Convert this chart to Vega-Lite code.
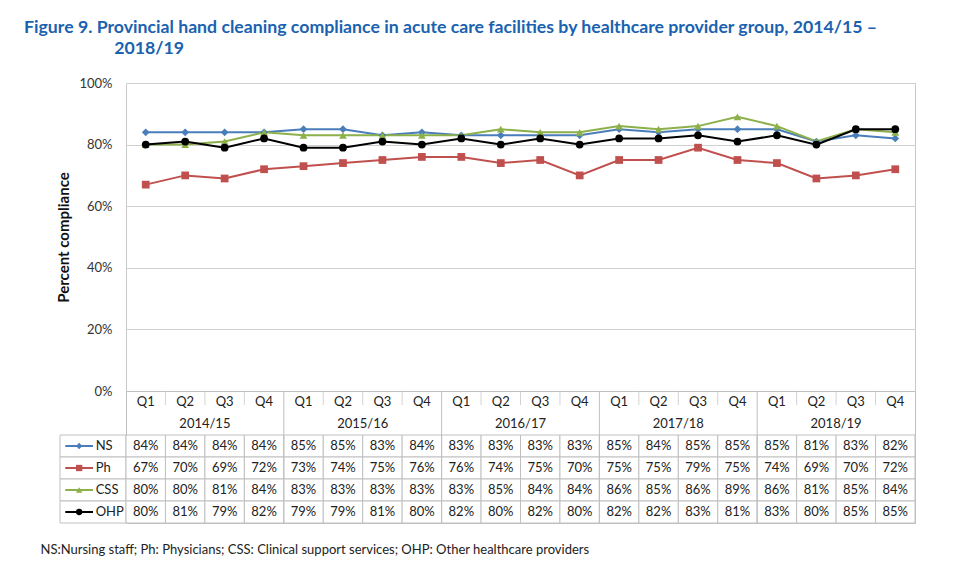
{
  "$schema": "https://vega.github.io/schema/vega-lite/v6.json",
  "padding": {"left": 24, "top": 18, "right": 5, "bottom": 5},
  "background": "white",
  "title": {
    "text": ["Figure 9. Provincial hand cleaning compliance in acute care facilities by healthcare provider group, 2014/15 –", "\u200b\u00a0\u00a0\u00a0\u00a0\u00a0\u00a0\u00a0\u00a0\u00a0\u00a0\u00a0\u00a0\u00a0\u00a0\u00a0\u00a0\u00a0\u00a0\u00a0\u00a0\u00a02018/19"],
    "anchor": "start", "color": "#1a62b0", "fontSize": 17.7, "font": "Lato", "fontWeight": "bold",
    "lineHeight": 21, "offset": 19, "dx": -16
  },
  "datasets": {
    "d": [
      {"year":"2014/15","q":"Q1","period":"2014/15 Q1","group":"NS","value":0.84},
      {"year":"2014/15","q":"Q2","period":"2014/15 Q2","group":"NS","value":0.84},
      {"year":"2014/15","q":"Q3","period":"2014/15 Q3","group":"NS","value":0.84},
      {"year":"2014/15","q":"Q4","period":"2014/15 Q4","group":"NS","value":0.84},
      {"year":"2015/16","q":"Q1","period":"2015/16 Q1","group":"NS","value":0.85},
      {"year":"2015/16","q":"Q2","period":"2015/16 Q2","group":"NS","value":0.85},
      {"year":"2015/16","q":"Q3","period":"2015/16 Q3","group":"NS","value":0.83},
      {"year":"2015/16","q":"Q4","period":"2015/16 Q4","group":"NS","value":0.84},
      {"year":"2016/17","q":"Q1","period":"2016/17 Q1","group":"NS","value":0.83},
      {"year":"2016/17","q":"Q2","period":"2016/17 Q2","group":"NS","value":0.83},
      {"year":"2016/17","q":"Q3","period":"2016/17 Q3","group":"NS","value":0.83},
      {"year":"2016/17","q":"Q4","period":"2016/17 Q4","group":"NS","value":0.83},
      {"year":"2017/18","q":"Q1","period":"2017/18 Q1","group":"NS","value":0.85},
      {"year":"2017/18","q":"Q2","period":"2017/18 Q2","group":"NS","value":0.84},
      {"year":"2017/18","q":"Q3","period":"2017/18 Q3","group":"NS","value":0.85},
      {"year":"2017/18","q":"Q4","period":"2017/18 Q4","group":"NS","value":0.85},
      {"year":"2018/19","q":"Q1","period":"2018/19 Q1","group":"NS","value":0.85},
      {"year":"2018/19","q":"Q2","period":"2018/19 Q2","group":"NS","value":0.81},
      {"year":"2018/19","q":"Q3","period":"2018/19 Q3","group":"NS","value":0.83},
      {"year":"2018/19","q":"Q4","period":"2018/19 Q4","group":"NS","value":0.82},
      {"year":"2014/15","q":"Q1","period":"2014/15 Q1","group":"Ph","value":0.67},
      {"year":"2014/15","q":"Q2","period":"2014/15 Q2","group":"Ph","value":0.70},
      {"year":"2014/15","q":"Q3","period":"2014/15 Q3","group":"Ph","value":0.69},
      {"year":"2014/15","q":"Q4","period":"2014/15 Q4","group":"Ph","value":0.72},
      {"year":"2015/16","q":"Q1","period":"2015/16 Q1","group":"Ph","value":0.73},
      {"year":"2015/16","q":"Q2","period":"2015/16 Q2","group":"Ph","value":0.74},
      {"year":"2015/16","q":"Q3","period":"2015/16 Q3","group":"Ph","value":0.75},
      {"year":"2015/16","q":"Q4","period":"2015/16 Q4","group":"Ph","value":0.76},
      {"year":"2016/17","q":"Q1","period":"2016/17 Q1","group":"Ph","value":0.76},
      {"year":"2016/17","q":"Q2","period":"2016/17 Q2","group":"Ph","value":0.74},
      {"year":"2016/17","q":"Q3","period":"2016/17 Q3","group":"Ph","value":0.75},
      {"year":"2016/17","q":"Q4","period":"2016/17 Q4","group":"Ph","value":0.70},
      {"year":"2017/18","q":"Q1","period":"2017/18 Q1","group":"Ph","value":0.75},
      {"year":"2017/18","q":"Q2","period":"2017/18 Q2","group":"Ph","value":0.75},
      {"year":"2017/18","q":"Q3","period":"2017/18 Q3","group":"Ph","value":0.79},
      {"year":"2017/18","q":"Q4","period":"2017/18 Q4","group":"Ph","value":0.75},
      {"year":"2018/19","q":"Q1","period":"2018/19 Q1","group":"Ph","value":0.74},
      {"year":"2018/19","q":"Q2","period":"2018/19 Q2","group":"Ph","value":0.69},
      {"year":"2018/19","q":"Q3","period":"2018/19 Q3","group":"Ph","value":0.70},
      {"year":"2018/19","q":"Q4","period":"2018/19 Q4","group":"Ph","value":0.72},
      {"year":"2014/15","q":"Q1","period":"2014/15 Q1","group":"CSS","value":0.80},
      {"year":"2014/15","q":"Q2","period":"2014/15 Q2","group":"CSS","value":0.80},
      {"year":"2014/15","q":"Q3","period":"2014/15 Q3","group":"CSS","value":0.81},
      {"year":"2014/15","q":"Q4","period":"2014/15 Q4","group":"CSS","value":0.84},
      {"year":"2015/16","q":"Q1","period":"2015/16 Q1","group":"CSS","value":0.83},
      {"year":"2015/16","q":"Q2","period":"2015/16 Q2","group":"CSS","value":0.83},
      {"year":"2015/16","q":"Q3","period":"2015/16 Q3","group":"CSS","value":0.83},
      {"year":"2015/16","q":"Q4","period":"2015/16 Q4","group":"CSS","value":0.83},
      {"year":"2016/17","q":"Q1","period":"2016/17 Q1","group":"CSS","value":0.83},
      {"year":"2016/17","q":"Q2","period":"2016/17 Q2","group":"CSS","value":0.85},
      {"year":"2016/17","q":"Q3","period":"2016/17 Q3","group":"CSS","value":0.84},
      {"year":"2016/17","q":"Q4","period":"2016/17 Q4","group":"CSS","value":0.84},
      {"year":"2017/18","q":"Q1","period":"2017/18 Q1","group":"CSS","value":0.86},
      {"year":"2017/18","q":"Q2","period":"2017/18 Q2","group":"CSS","value":0.85},
      {"year":"2017/18","q":"Q3","period":"2017/18 Q3","group":"CSS","value":0.86},
      {"year":"2017/18","q":"Q4","period":"2017/18 Q4","group":"CSS","value":0.89},
      {"year":"2018/19","q":"Q1","period":"2018/19 Q1","group":"CSS","value":0.86},
      {"year":"2018/19","q":"Q2","period":"2018/19 Q2","group":"CSS","value":0.81},
      {"year":"2018/19","q":"Q3","period":"2018/19 Q3","group":"CSS","value":0.85},
      {"year":"2018/19","q":"Q4","period":"2018/19 Q4","group":"CSS","value":0.84},
      {"year":"2014/15","q":"Q1","period":"2014/15 Q1","group":"OHP","value":0.80},
      {"year":"2014/15","q":"Q2","period":"2014/15 Q2","group":"OHP","value":0.81},
      {"year":"2014/15","q":"Q3","period":"2014/15 Q3","group":"OHP","value":0.79},
      {"year":"2014/15","q":"Q4","period":"2014/15 Q4","group":"OHP","value":0.82},
      {"year":"2015/16","q":"Q1","period":"2015/16 Q1","group":"OHP","value":0.79},
      {"year":"2015/16","q":"Q2","period":"2015/16 Q2","group":"OHP","value":0.79},
      {"year":"2015/16","q":"Q3","period":"2015/16 Q3","group":"OHP","value":0.81},
      {"year":"2015/16","q":"Q4","period":"2015/16 Q4","group":"OHP","value":0.80},
      {"year":"2016/17","q":"Q1","period":"2016/17 Q1","group":"OHP","value":0.82},
      {"year":"2016/17","q":"Q2","period":"2016/17 Q2","group":"OHP","value":0.80},
      {"year":"2016/17","q":"Q3","period":"2016/17 Q3","group":"OHP","value":0.82},
      {"year":"2016/17","q":"Q4","period":"2016/17 Q4","group":"OHP","value":0.80},
      {"year":"2017/18","q":"Q1","period":"2017/18 Q1","group":"OHP","value":0.82},
      {"year":"2017/18","q":"Q2","period":"2017/18 Q2","group":"OHP","value":0.82},
      {"year":"2017/18","q":"Q3","period":"2017/18 Q3","group":"OHP","value":0.83},
      {"year":"2017/18","q":"Q4","period":"2017/18 Q4","group":"OHP","value":0.81},
      {"year":"2018/19","q":"Q1","period":"2018/19 Q1","group":"OHP","value":0.83},
      {"year":"2018/19","q":"Q2","period":"2018/19 Q2","group":"OHP","value":0.80},
      {"year":"2018/19","q":"Q3","period":"2018/19 Q3","group":"OHP","value":0.85},
      {"year":"2018/19","q":"Q4","period":"2018/19 Q4","group":"OHP","value":0.85}
    ]
  },
  "columns": 2,
  "spacing": 0,
  "bounds": "flush",
  "concat": [
    {
      "width": 66, "height": 308,
      "data": {"values": [{}]},
      "mark": {"type": "text", "text": ""}
    },
    {
      "width": 789, "height": 308,
      "view": {"stroke": "#c8c8c8"},
      "data": {"name": "d"},
      "encoding": {
        "x": {"field": "period", "type": "ordinal", "scale": {"type": "point", "padding": 0.5}, "axis": null},
        "y": {"field": "value", "type": "quantitative", "scale": {"domain": [0, 1]},
          "axis": {"values": [0, 0.2, 0.4, 0.6, 0.8, 1], "format": ".0%", "title": "Percent compliance",
            "titleFontSize": 15, "titleFontWeight": "bold", "titleColor": "#111", "titlePadding": 7,
            "labelFontSize": 13, "labelColor": "#333", "labelPadding": 14, "ticks": false,
            "domain": false, "gridColor": "#d0d0d0", "gridWidth": 1}},
        "color": {"field": "group", "type": "nominal",
          "scale": {"domain": ["NS", "Ph", "CSS", "OHP"], "range": ["#4a7ebb", "#c0504d", "#8cb04a", "#000000"]},
          "legend": null}
      },
      "layer": [
        {"mark": {"type": "line", "strokeWidth": 2},
         "encoding": {"strokeWidth": {"field": "group", "type": "nominal",
           "scale": {"domain": ["NS", "Ph", "CSS", "OHP"], "range": [2, 2, 2.2, 2.6]}, "legend": null}}},
        {"mark": {"type": "point", "filled": true, "opacity": 1},
         "encoding": {
           "shape": {"field": "group", "type": "nominal",
             "scale": {"domain": ["NS", "Ph", "CSS", "OHP"], "range": ["diamond", "square", "triangle-up", "circle"]}, "legend": null},
           "size": {"field": "group", "type": "nominal",
             "scale": {"domain": ["NS", "Ph", "CSS", "OHP"], "range": [60, 60, 80, 65]}, "legend": null}
         }}
      ]
    },
    {
      "width": 66, "height": 132,
      "data": {"name": "d"},
      "transform": [{"filter": "datum.period == '2014/15 Q1'"}],
      "encoding": {
        "y": {"field": "group", "type": "nominal", "bandPosition": 0.5,
          "scale": {"type": "band", "domain": ["Q", "Year", "NS", "Ph", "CSS", "OHP"], "padding": 0}, "axis": null}
      },
      "layer": [
        {"mark": {"type": "rect", "fill": "white", "stroke": "#c0c0c0", "strokeWidth": 1},
         "encoding": {
           "y": {"field": "group", "type": "nominal"},
           "x": {"datum": 0, "type": "quantitative", "scale": {"domain": [0, 1]},
             "axis": {"domain": false, "ticks": false, "labels": false, "grid": false,
               "title": "NS:Nursing staff; Ph: Physicians; CSS: Clinical support services; OHP: Other healthcare providers",
               "titleAnchor": "start", "titleAlign": "left", "titleX": -20, "titleY": 26, "titleBaseline": "middle",
               "titleFontSize": 13, "titleFontWeight": "normal", "titleColor": "#222"}},
           "x2": {"datum": 1}
         }},
        {"mark": {"type": "rule", "strokeWidth": 2},
         "encoding": {
           "x": {"datum": 0.08, "type": "quantitative"}, "x2": {"datum": 0.5},
           "color": {"field": "group", "type": "nominal",
             "scale": {"domain": ["NS", "Ph", "CSS", "OHP"], "range": ["#4a7ebb", "#c0504d", "#8cb04a", "#000000"]}, "legend": null}
         }},
        {"mark": {"type": "point", "filled": true, "opacity": 1, "size": 40},
         "encoding": {
           "x": {"datum": 0.29, "type": "quantitative"},
           "color": {"field": "group", "type": "nominal", "legend": null},
           "shape": {"field": "group", "type": "nominal",
             "scale": {"domain": ["NS", "Ph", "CSS", "OHP"], "range": ["diamond", "square", "triangle-up", "circle"]}, "legend": null}
         }},
        {"mark": {"type": "text", "align": "left", "fontSize": 13, "color": "#222"},
         "encoding": {
           "x": {"datum": 0.54, "type": "quantitative"},
           "text": {"field": "group"}
         }}
      ]
    },
    {
      "width": 789, "height": 132,
      "view": {"stroke": "#c0c0c0"},
      "data": {"name": "d"},
      "encoding": {
        "x": {"field": "period", "type": "ordinal", "scale": {"type": "band", "paddingInner": 0, "paddingOuter": 0}, "axis": null}
      },
      "layer": [
        {"mark": {"type": "rect", "fill": "white", "stroke": "#c0c0c0", "strokeWidth": 1},
         "encoding": {
           "y": {"field": "group", "type": "nominal",
             "scale": {"type": "band", "domain": ["Q", "Year", "NS", "Ph", "CSS", "OHP"], "padding": 0}, "axis": null}
         }},
        {"transform": [{"filter": "datum.group == 'NS' && datum.q == 'Q1' && datum.year != '2014/15'"}],
         "mark": {"type": "rule", "color": "#c0c0c0", "strokeWidth": 1},
         "encoding": {"x": {"field": "period", "type": "ordinal", "bandPosition": 0}}},
        {"transform": [{"filter": "datum.group == 'NS' && datum.q != 'Q1'"}],
         "mark": {"type": "tick", "orient": "vertical", "color": "#c0c0c0", "thickness": 1, "size": 14, "yOffset": -4},
         "encoding": {"x": {"field": "period", "type": "ordinal", "bandPosition": 0},
           "y": {"datum": "Q", "type": "nominal"}}},
        {"transform": [{"filter": "datum.group == 'NS'"}],
         "mark": {"type": "text", "fontSize": 13, "color": "#222"},
         "encoding": {"y": {"datum": "Q", "type": "nominal", "bandPosition": 0.5}, "text": {"field": "q"}}},
        {"transform": [{"filter": "datum.group == 'NS' && datum.q == 'Q2'"}],
         "mark": {"type": "text", "fontSize": 13, "color": "#222"},
         "encoding": {"x": {"field": "period", "type": "ordinal", "bandPosition": 1},
           "y": {"datum": "Year", "type": "nominal", "bandPosition": 0.5}, "text": {"field": "year"}}},
        {"mark": {"type": "text", "fontSize": 13, "color": "#222"},
         "encoding": {"y": {"field": "group", "type": "nominal", "bandPosition": 0.5},
           "text": {"field": "value", "type": "quantitative", "format": ".0%"}}}
      ]
    }
  ],
  "config": {
    "view": {"stroke": null},
    "font": "Lato"
  }
}
